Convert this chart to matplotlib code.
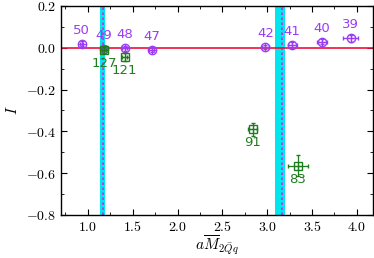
import matplotlib
matplotlib.use("Agg")
import matplotlib.pyplot as plt
from matplotlib.ticker import MultipleLocator, FuncFormatter

plt.rcParams.update({
    "font.family": "serif",
    "font.serif": ["DejaVu Serif"],
    "mathtext.fontset": "cm",
    "font.size": 9,
})

# purple series (circles)
p_lab = ["50", "49", "48", "47", "42", "41", "40", "39"]
p_x = [0.93, 1.18, 1.41, 1.71, 2.98, 3.28, 3.61, 3.93]
p_y = [0.020, -0.005, -0.003, -0.010, 0.005, 0.015, 0.030, 0.045]
p_xe = [0.02, 0.02, 0.03, 0.03, 0.04, 0.05, 0.06, 0.08]
p_ye = [0.012, 0.010, 0.010, 0.010, 0.010, 0.012, 0.012, 0.015]

# green series (squares)
g_lab = ["127", "121", "91", "83"]
g_x = [1.18, 1.41, 2.84, 3.34]
g_y = [-0.010, -0.045, -0.390, -0.565]
g_xe = [0.02, 0.03, 0.05, 0.11]
g_ye = [0.015, 0.020, 0.030, 0.050]

# vertical bands and lines
bands = [(1.135, 1.19), (3.09, 3.20)]
vlines = [1.165, 3.17]

PURPLE = "#9b3cf5"
GREEN = "#1f7d1f"

fig = plt.figure(figsize=(3.74, 2.58), dpi=100)
ax = fig.add_axes([61 / 374, 43 / 258, 312 / 374, 209 / 258])

for lo, hi in bands:
    ax.axvspan(lo, hi, color="#00e5ee", lw=0, zorder=1)
for v in vlines:
    ax.axvline(v, color="#e020e0", ls=(0, (1.5, 1.5)), lw=1.2, zorder=2)
ax.axhline(0.0, color="#f0103a", lw=1.2, zorder=2)

ax.errorbar(p_x, p_y, xerr=p_xe, yerr=p_ye, fmt="o", ms=6, mfc="none",
            mec=PURPLE, ecolor=PURPLE, elinewidth=0.9, capsize=1.5, mew=1.0, zorder=4)
ax.plot(p_x, p_y, "+", ms=6, color=PURPLE, mew=0.9, zorder=4)
ax.errorbar(g_x, g_y, xerr=g_xe, yerr=g_ye, fmt="s", ms=6, mfc="none",
            mec=GREEN, ecolor=GREEN, elinewidth=0.9, capsize=1.5, mew=1.0, zorder=5)
ax.plot(g_x, g_y, "+", ms=6, color=GREEN, mew=0.9, zorder=5)

for x, y, t in zip(p_x, p_y, p_lab):
    ax.annotate(t, (x, y), xytext=(0, 5), textcoords="offset points",
                ha="center", va="bottom", color=PURPLE, fontsize=9.5,
                family="DejaVu Sans")
for x, y, t in zip(g_x, g_y, g_lab):
    ax.annotate(t, (x, y), xytext=(0, -5), textcoords="offset points",
                ha="center", va="top", color=GREEN, fontsize=9.5,
                family="DejaVu Sans")

ax.set_xlim(0.7, 4.18)
ax.set_ylim(-0.8, 0.2)
ax.xaxis.set_major_locator(MultipleLocator(0.5))
ax.xaxis.set_minor_locator(MultipleLocator(0.25))
ax.yaxis.set_major_locator(MultipleLocator(0.2))
ax.yaxis.set_minor_locator(MultipleLocator(0.1))
fmt = FuncFormatter(lambda v, p: r"$%.1f$" % v)
ax.xaxis.set_major_formatter(fmt)
ax.yaxis.set_major_formatter(fmt)
ax.tick_params(which="both", direction="in", top=True, right=True, labelsize=10)
ax.tick_params(which="major", length=4)
ax.tick_params(which="minor", length=2)
for s in ax.spines.values():
    s.set_linewidth(1.0)

ax.set_xlabel(r"$a\overline{M}_{2\bar{Q}q}$", fontsize=11, labelpad=0)
ax.set_ylabel(r"$I$", fontsize=11, labelpad=4)

fig.savefig("out.png", dpi=100)
